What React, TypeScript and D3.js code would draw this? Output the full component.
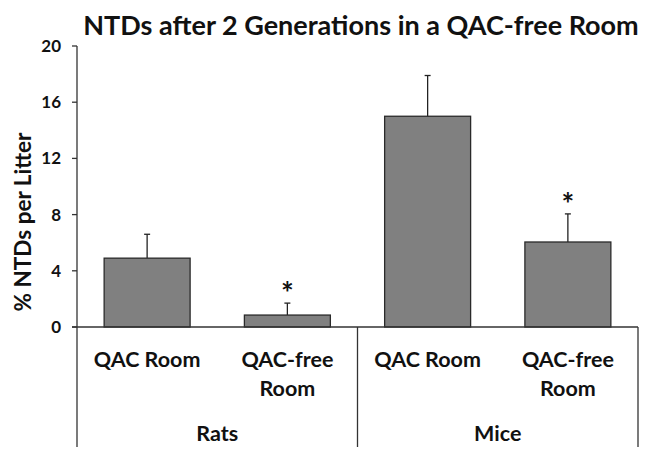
import React from "react";
import * as d3 from "d3";

const categories = ["QAC Room", "QAC-free Room", "QAC Room", "QAC-free Room"];
const categoryLines = [["QAC Room"], ["QAC-free", "Room"], ["QAC Room"], ["QAC-free", "Room"]];
const groups = ["Rats", "Mice"];
const values = [4.9, 0.85, 15.0, 6.05];
const errors = [1.7, 0.85, 2.9, 2.0];
const significant = [false, true, false, true];
const yTicks = [0, 4, 8, 12, 16, 20];
const title = "NTDs after 2 Generations in a QAC-free Room";
const yLabel = "% NTDs per Litter";

const W = 648;
const H = 457;
const FONT = "Lato, 'Open Sans', sans-serif";

export default function App() {
  const x0 = 77;
  const x1 = 638;
  const yZero = 327;
  const yTop = 46;
  const bottom = 447;
  const x = d3.scaleBand<number>().domain(d3.range(categories.length)).range([x0, x1]).padding(0);
  const y = d3.scaleLinear().domain([0, 20]).range([yZero, yTop]);
  const barW = x.bandwidth() * 0.613;
  const groupX = d3.scaleBand<string>().domain(groups).range([x0, x1]).padding(0);

  return (
    <svg width={W} height={H} style={{ position: "absolute", left: 0, top: 0, background: "#fff" }}>
      <text x={361} y={35} textAnchor="middle" fontFamily={FONT} fontWeight="bold" fontSize={27} fill="#111">
        {title}
      </text>
      {/* y axis label */}
      <text
        transform={`translate(31, 222) rotate(-90)`}
        textAnchor="middle"
        fontFamily={FONT}
        fontWeight="bold"
        fontSize={22.5}
        fill="#111"
      >
        {yLabel}
      </text>
      {/* y axis */}
      <line x1={x0} x2={x0} y1={yTop} y2={bottom} stroke="#333" strokeWidth={1.3} />
      {yTicks.map((t) => (
        <g key={t}>
          <line x1={x0 - 5} x2={x0} y1={y(t)} y2={y(t)} stroke="#333" strokeWidth={1.3} />
          <text x={61} y={y(t) + 6} textAnchor="end" fontFamily={FONT} fontWeight="bold" fontSize={17} fill="#111">
            {t}
          </text>
        </g>
      ))}
      {/* bars */}
      {values.map((v, i) => {
        const cx = (x(i) as number) + x.bandwidth() / 2;
        return (
          <g key={i}>
            <line x1={cx} x2={cx} y1={y(v)} y2={y(v + errors[i])} stroke="#222" strokeWidth={1.3} />
            <line x1={cx - 3} x2={cx + 3} y1={y(v + errors[i])} y2={y(v + errors[i])} stroke="#222" strokeWidth={1.3} />
            <rect x={cx - barW / 2} y={y(v)} width={barW} height={yZero - y(v)} fill="#808080" stroke="#2a2a2a" strokeWidth={1.3} />
            {significant[i] && (
              <text x={cx} y={y(v + errors[i]) + 1} textAnchor="middle" fontFamily={FONT} fontWeight="bold" fontSize={30} fill="#111">
                *
              </text>
            )}
            {categoryLines[i].map((ln, j) => (
              <text
                key={j}
                x={cx}
                y={367 + j * 29}
                textAnchor="middle"
                fontFamily={FONT}
                fontWeight="bold"
                fontSize={21.5}
                fill="#111"
              >
                {ln}
              </text>
            ))}
          </g>
        );
      })}
      {/* zero line */}
      <line x1={x0 - 5} x2={x1} y1={yZero} y2={yZero} stroke="#333" strokeWidth={1.3} />
      {/* group dividers */}
      {groups.map((g) => (
        <g key={g}>
          <line
            x1={(groupX(g) as number) + groupX.bandwidth()}
            x2={(groupX(g) as number) + groupX.bandwidth()}
            y1={yZero}
            y2={bottom}
            stroke="#333"
            strokeWidth={1.3}
          />
          <text
            x={(groupX(g) as number) + groupX.bandwidth() / 2}
            y={441}
            textAnchor="middle"
            fontFamily={FONT}
            fontWeight="bold"
            fontSize={21.5}
            fill="#111"
          >
            {g}
          </text>
        </g>
      ))}
    </svg>
  );
}
